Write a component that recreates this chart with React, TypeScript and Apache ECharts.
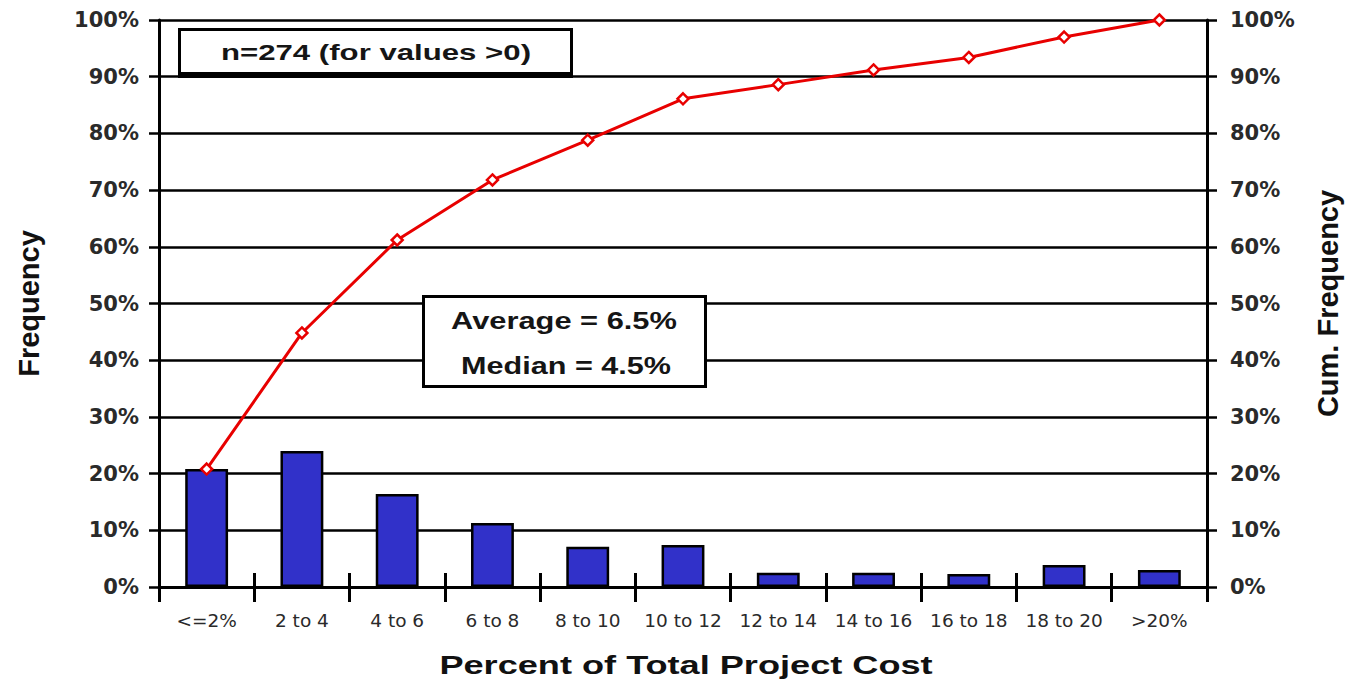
import React, { useEffect, useRef } from "react";
import * as echarts from "echarts";

const categories = ["<=2%", "2 to 4", "4 to 6", "6 to 8", "8 to 10", "10 to 12", "12 to 14", "14 to 16", "16 to 18", "18 to 20", ">20%"];
const frequency = [20.8, 24.0, 16.4, 11.3, 7.1, 7.4, 2.5, 2.5, 2.3, 3.9, 3.0];
const cumFrequency = [20.8, 44.8, 61.2, 71.8, 78.8, 86.1, 88.6, 91.2, 93.4, 97.0, 100];
const yTicks = [0, 10, 20, 30, 40, 50, 60, 70, 80, 90, 100];
const noteText = "n=274 (for values >0)";
const statLines = ["Average = 6.5%", "Median = 4.5%"];
const xTitle = "Percent of Total Project Cost";

const FONT = "'Liberation Sans', Arial, sans-serif";
const WIDE = "'DejaVu Sans', sans-serif";

export default function App() {
  const ref = useRef<HTMLDivElement>(null);
  useEffect(() => {
    document.body.style.margin = "0";
    if (!ref.current) return;
    const chart = echarts.init(ref.current, undefined, { renderer: "svg" });
    const yLabel = {
      fontFamily: WIDE,
      fontWeight: "bold" as const,
      fontSize: 21,
      color: "#2a2a2a",
      formatter: (v: number) => `${v}%`,
    };
    const yMin = yTicks[0];
    const yMax = yTicks[yTicks.length - 1];
    const yStep = yTicks[1] - yTicks[0];
    chart.setOption({
      animation: false,
      backgroundColor: "#fff",
      grid: { left: 159, right: 144, top: 20, bottom: 92 },
      xAxis: [
        {
          type: "category",
          data: categories,
          position: "bottom",
          boundaryGap: true,
          axisLine: { show: true, lineStyle: { color: "#000", width: 3 } },
          axisTick: { show: true, inside: false, length: 15, lineStyle: { color: "#000", width: 3 } },
          axisLabel: { fontFamily: WIDE, fontSize: 18.5, color: "#2a2a2a", margin: 24, interval: 0 },
        },
        {
          type: "category",
          data: categories,
          position: "bottom",
          boundaryGap: true,
          axisLine: { show: false },
          axisTick: { show: true, inside: true, length: 14, lineStyle: { color: "#000", width: 3 } },
          axisLabel: { show: false },
        },
      ],
      yAxis: [
        {
          type: "value",
          min: yMin,
          max: yMax,
          interval: yStep,
          position: "left",
          axisLine: { show: true, lineStyle: { color: "#000", width: 3 } },
          axisTick: { show: true, inside: false, length: 10, lineStyle: { color: "#000", width: 2.5 } },
          splitLine: { show: true, lineStyle: { color: "#000", width: 2.5 } },
          axisLabel: { ...yLabel, margin: 20 },
          name: "Frequency",
          nameLocation: "middle",
          nameGap: 116,
          nameRotate: 90,
          nameTextStyle: { fontFamily: FONT, fontWeight: "bold", fontSize: 29, color: "#111" },
        },
        {
          type: "value",
          min: yMin,
          max: yMax,
          interval: yStep,
          position: "right",
          axisLine: { show: true, lineStyle: { color: "#000", width: 3 } },
          axisTick: { show: true, inside: false, length: 10, lineStyle: { color: "#000", width: 2.5 } },
          splitLine: { show: false },
          axisLabel: { ...yLabel, margin: 23 },
          name: "Cum. Frequency",
          nameLocation: "middle",
          nameGap: 106,
          nameRotate: 90,
          nameTextStyle: { fontFamily: FONT, fontWeight: "bold", fontSize: 29, color: "#111" },
        },
      ],
      series: [
        {
          type: "bar",
          name: "Frequency",
          data: frequency,
          xAxisIndex: 0,
          yAxisIndex: 0,
          barWidth: "45%",
          itemStyle: { color: "#3131c9", borderColor: "#000", borderWidth: 2.5 },
          z: 3,
        },
        {
          type: "line",
          name: "Cum. Frequency",
          data: cumFrequency,
          xAxisIndex: 0,
          yAxisIndex: 1,
          symbol: "diamond",
          symbolSize: 11,
          lineStyle: { color: "#e80000", width: 3 },
          itemStyle: { color: "#fff", borderColor: "#e80000", borderWidth: 2.5 },
          z: 5,
        },
      ],
      graphic: [
        {
          type: "rect",
          shape: { x: 178, y: 28, width: 395, height: 50 },
          style: { fill: "#000" },
          z: 10,
        },
        {
          type: "rect",
          shape: { x: 181, y: 31, width: 389, height: 41 },
          style: { fill: "#fff" },
          z: 11,
        },
        {
          type: "text",
          x: 376,
          y: 53,
          scaleX: 1.45,
          style: {
            text: noteText,
            fontFamily: FONT,
            fontWeight: "bold",
            fontSize: 21.5,
            fill: "#151515",
            textAlign: "center",
            textVerticalAlign: "middle",
          },
          z: 12,
        },
        {
          type: "rect",
          shape: { x: 423.5, y: 296.5, width: 282, height: 90 },
          style: { fill: "#fff", stroke: "#000", lineWidth: 3 },
          z: 11,
        },
        {
          type: "text",
          x: 564,
          y: 321,
          scaleX: 1.34,
          style: {
            text: statLines[0],
            fontFamily: FONT,
            fontWeight: "bold",
            fontSize: 23,
            fill: "#151515",
            textAlign: "center",
            textVerticalAlign: "middle",
          },
          z: 12,
        },
        {
          type: "text",
          x: 566,
          y: 366,
          scaleX: 1.33,
          style: {
            text: statLines[1],
            fontFamily: FONT,
            fontWeight: "bold",
            fontSize: 23,
            fill: "#151515",
            textAlign: "center",
            textVerticalAlign: "middle",
          },
          z: 12,
        },
        {
          type: "text",
          x: 686,
          y: 665,
          scaleX: 1.39,
          style: {
            text: xTitle,
            fontFamily: FONT,
            fontWeight: "bold",
            fontSize: 26,
            fill: "#111",
            textAlign: "center",
            textVerticalAlign: "middle",
          },
          z: 12,
        },
      ],
    });
    return () => chart.dispose();
  }, []);
  return <div ref={ref} style={{ width: 1351, height: 679 }} />;
}
